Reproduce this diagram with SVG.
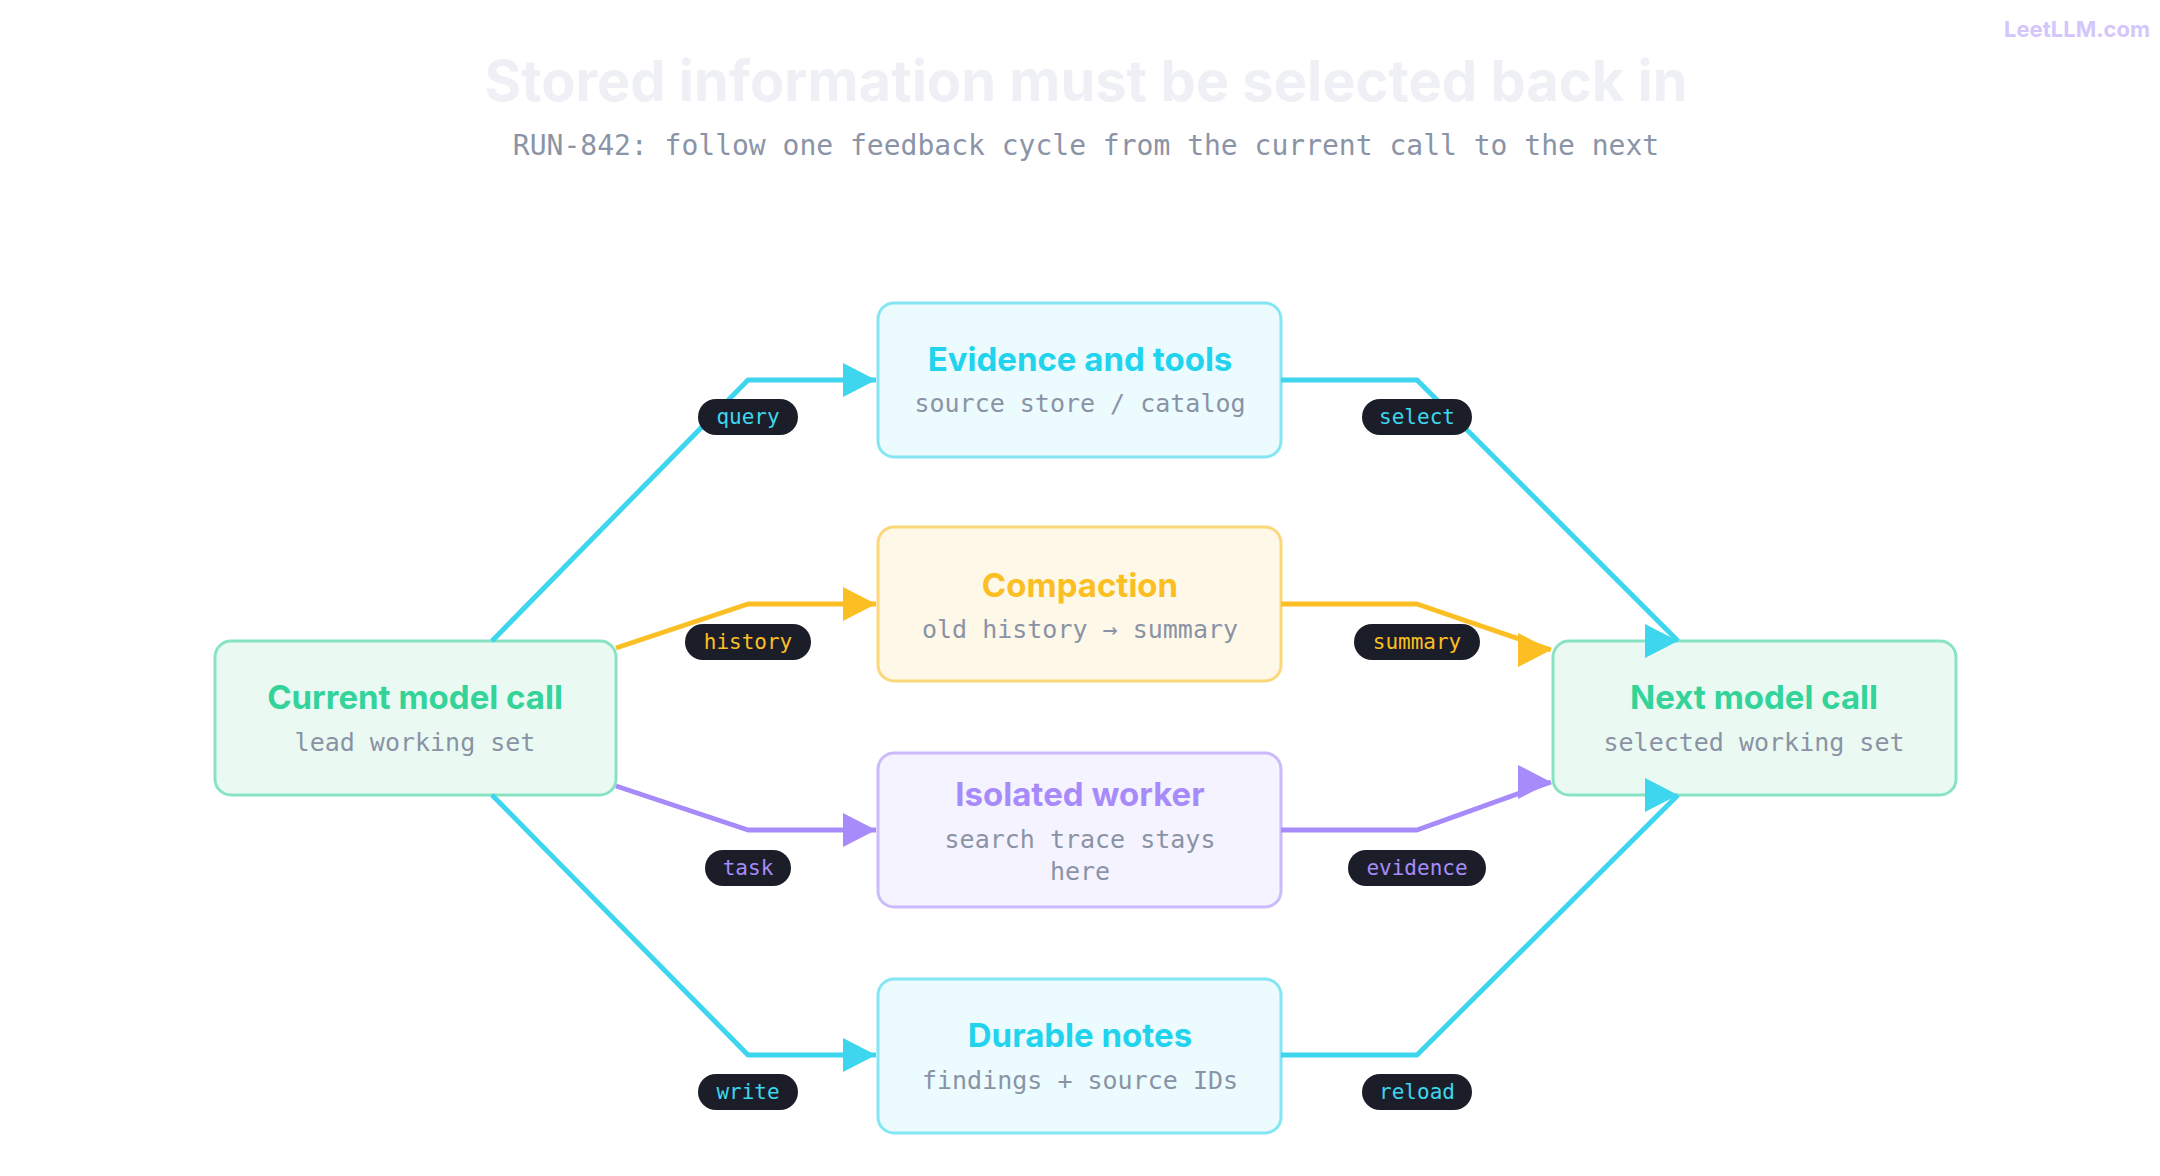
<svg xmlns="http://www.w3.org/2000/svg" width="2160" height="1176" viewBox="0 0 2160 1176">
<style>
.bt{font-family:Inter,"Noto Sans",sans-serif;font-weight:700;font-size:33px;text-anchor:middle}
.st{font-family:"DejaVu Sans Mono","Liberation Mono",monospace;font-size:25px;fill:#8a93a5;text-anchor:middle}
.pl{font-family:"DejaVu Sans Mono","Liberation Mono",monospace;font-size:21px;text-anchor:middle}
.ln{fill:none;stroke-width:5;stroke-linejoin:round}
</style>
<defs>
<marker id="ac" markerUnits="userSpaceOnUse" markerWidth="36" markerHeight="36" refX="33" refY="17" orient="0"><path d="M0,0L33,17L0,34Z" fill="#3dd6ee"/></marker>
<marker id="ay" markerUnits="userSpaceOnUse" markerWidth="36" markerHeight="36" refX="33" refY="17" orient="0"><path d="M0,0L33,17L0,34Z" fill="#fbbf24"/></marker>
<marker id="ap" markerUnits="userSpaceOnUse" markerWidth="36" markerHeight="36" refX="33" refY="17" orient="0"><path d="M0,0L33,17L0,34Z" fill="#a78bfa"/></marker>
</defs>
<rect width="2160" height="1176" fill="#fff"/>
<text x="1086" y="101" font-family="Inter,'Noto Sans',sans-serif" font-weight="700" font-size="56" fill="#eef0f5" text-anchor="middle">Stored information must be selected back in</text>
<text x="1086" y="155" font-family="'DejaVu Sans Mono','Liberation Mono',monospace" font-size="28" fill="#8a94a6" text-anchor="middle">RUN-842: follow one feedback cycle from the current call to the next</text>
<text x="2150" y="37" font-family="Inter,'Noto Sans',sans-serif" font-weight="700" font-size="22" fill="#d3c6fb" text-anchor="end">LeetLLM.com</text>

<g id="evidence">
<rect x="878" y="303" width="403" height="154" rx="16" fill="#ecfbfe" stroke="#84e6f4" stroke-width="3"/>
<text class="bt" x="1080" y="371" fill="#22d3ee">Evidence and tools</text>
<text class="st" x="1080" y="412">source store / catalog</text>
</g>
<g id="compaction">
<rect x="878" y="527" width="403" height="154" rx="16" fill="#fef8e9" stroke="#fcd77a" stroke-width="3"/>
<text class="bt" x="1080" y="597" fill="#fbbf24">Compaction</text>
<text class="st" x="1080" y="638">old history → summary</text>
</g>
<g id="isolated">
<rect x="878" y="753" width="403" height="154" rx="16" fill="#f5f3ff" stroke="#cbbafc" stroke-width="3"/>
<text class="bt" x="1080" y="806" fill="#a78bfa">Isolated worker</text>
<text class="st" x="1080" y="848">search trace stays</text>
<text class="st" x="1080" y="880">here</text>
</g>
<g id="durable">
<rect x="878" y="979" width="403" height="154" rx="16" fill="#ecfbfe" stroke="#84e6f4" stroke-width="3"/>
<text class="bt" x="1080" y="1047" fill="#22d3ee">Durable notes</text>
<text class="st" x="1080" y="1089">findings + source IDs</text>
</g>
<g id="current">
<rect x="215" y="641" width="401" height="154" rx="16" fill="#eafaf3" stroke="#88e3c3" stroke-width="3"/>
<text class="bt" x="415" y="709" fill="#34d399">Current model call</text>
<text class="st" x="415" y="751">lead working set</text>
</g>
<g id="next">
<rect x="1553" y="641" width="403" height="154" rx="16" fill="#eafaf3" stroke="#88e3c3" stroke-width="3"/>
<text class="bt" x="1754" y="709" fill="#34d399">Next model call</text>
<text class="st" x="1754" y="751">selected working set</text>
</g>

<g id="connectors">
<path class="ln" stroke="#3dd6ee" d="M492,641L748,380L876,380" marker-end="url(#ac)"/>
<path class="ln" stroke="#3dd6ee" d="M1281,380L1417,380L1678,641" marker-end="url(#ac)"/>
<path class="ln" stroke="#fbbf24" d="M616,648L748,604L876,604" marker-end="url(#ay)"/>
<path class="ln" stroke="#fbbf24" d="M1281,604L1417,604L1551,650" marker-end="url(#ay)"/>
<path class="ln" stroke="#a78bfa" d="M616,786L748,830L876,830" marker-end="url(#ap)"/>
<path class="ln" stroke="#a78bfa" d="M1281,830L1417,830L1551,782" marker-end="url(#ap)"/>
<path class="ln" stroke="#3dd6ee" d="M492,795L748,1055L876,1055" marker-end="url(#ac)"/>
<path class="ln" stroke="#3dd6ee" d="M1281,1055L1417,1055L1678,795" marker-end="url(#ac)"/>
<g class="pl">
<rect x="698" y="399" width="100" height="36" rx="18" fill="#1b1e29"/><text x="748" y="424" fill="#3dd6ee">query</text>
<rect x="1362" y="399" width="110" height="36" rx="18" fill="#1b1e29"/><text x="1417" y="424" fill="#3dd6ee">select</text>
<rect x="685" y="624" width="126" height="36" rx="18" fill="#1b1e29"/><text x="748" y="649" fill="#fbbf24">history</text>
<rect x="1354" y="624" width="126" height="36" rx="18" fill="#1b1e29"/><text x="1417" y="649" fill="#fbbf24">summary</text>
<rect x="705" y="850" width="86" height="36" rx="18" fill="#1b1e29"/><text x="748" y="875" fill="#a78bfa">task</text>
<rect x="1348" y="850" width="138" height="36" rx="18" fill="#1b1e29"/><text x="1417" y="875" fill="#a78bfa">evidence</text>
<rect x="698" y="1074" width="100" height="36" rx="18" fill="#1b1e29"/><text x="748" y="1099" fill="#3dd6ee">write</text>
<rect x="1362" y="1074" width="110" height="36" rx="18" fill="#1b1e29"/><text x="1417" y="1099" fill="#3dd6ee">reload</text>
</g>
</g>
</svg>
